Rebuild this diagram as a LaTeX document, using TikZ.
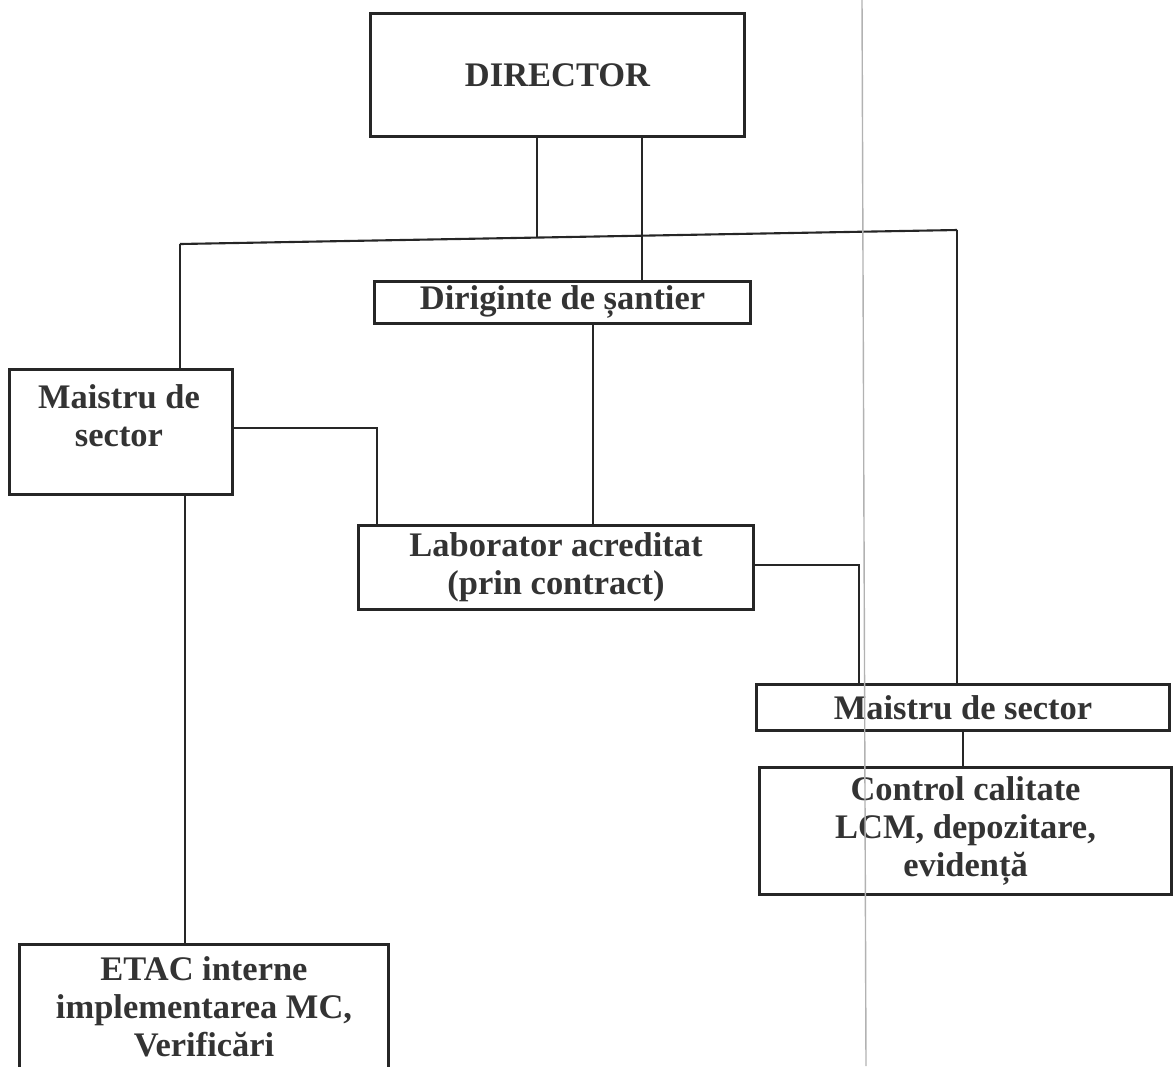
\documentclass[tikz,border=0pt]{standalone}
\usepackage{fontspec}
\setmainfont{Liberation Serif}
\usepackage{tikz}
\definecolor{ink}{HTML}{333333}
\tikzset{
  box/.style={rectangle, draw=black!85, line width=0.8pt, inner sep=0pt, anchor=north west, align=center, font=\fontsize{9.8}{10.8}\selectfont\bfseries, text=ink},
  lbl/.style={inner sep=0pt, align=center, font=\fontsize{9.8}{10.8}\selectfont\bfseries, text=ink},
  conn/.style={draw=black!85, line width=0.6pt},
  fold/.style={draw=black!30, line width=0.4pt},
}

\begin{document}
\begin{tikzpicture}[x=0.01cm, y=-0.01cm]
\useasboundingbox (0,0) rectangle (1173,1066);
\clip (0,0) rectangle (1173,1066);
% ---- boxes ----
\node[box, minimum width=3.74cm, minimum height=1.23cm] (director) at (369,12) {DIRECTOR};
\node[box, minimum width=3.76cm, minimum height=0.42cm] (dirig) at (373,280) {Diriginte de șantier};
\node[box, minimum width=2.23cm, minimum height=1.25cm] (maistruL) at (8,368) {};
\node[lbl] (maistruL-txt) at (119,416) {Maistru de\\ sector};
\node[box, minimum width=3.95cm, minimum height=0.84cm] (lab) at (357,524) {Laborator acreditat\\ (prin contract)};
\node[box, minimum width=4.13cm, minimum height=0.46cm] (maistruR) at (755,683) {Maistru de sector};
\node[box, minimum width=4.12cm, minimum height=1.27cm] (control) at (758,766) {Control calitate\\ LCM, depozitare,\\ evidență};
\node[box, minimum width=3.69cm, minimum height=1.25cm] (etac) at (18,943) {ETAC interne\\ implementarea MC,\\ Verificări};
% ---- bus under the director ----
\coordinate (busL) at (180,244);
\coordinate (busM) at (537,237.5);
\coordinate (busR) at (957,230);
\draw[conn] (busL) -- (busR);
\draw[conn] (director.south -| busM) -- (busM);
\draw[conn] (busL) -- (maistruL.north -| busL);
\draw[conn] (busR) -- (maistruR.north -| busR);
% ---- other links ----
\coordinate (dirDown) at (642,0);
\coordinate (labUp) at (593,0);
\coordinate (mlBend) at (377,428);
\coordinate (labBend) at (859,565);
\coordinate (mrDown) at (963,0);
\coordinate (mlDown) at (185,0);
\draw[conn] (director.south -| dirDown) -- (dirig.north -| dirDown);
\draw[conn] (dirig.south -| labUp) -- (lab.north -| labUp);
\draw[conn] (maistruL.east |- mlBend) -- (mlBend) -- (lab.north -| mlBend);
\draw[conn] (lab.east |- labBend) -- (labBend) -- (maistruR.north -| labBend);
\draw[conn] (maistruR.south -| mrDown) -- (control.north -| mrDown);
\draw[conn] (maistruL.south -| mlDown) -- (etac.north -| mlDown);
% fold of the scanned sheet
\draw[fold] (862,0) -- (866,1066);
\end{tikzpicture}
\end{document}
